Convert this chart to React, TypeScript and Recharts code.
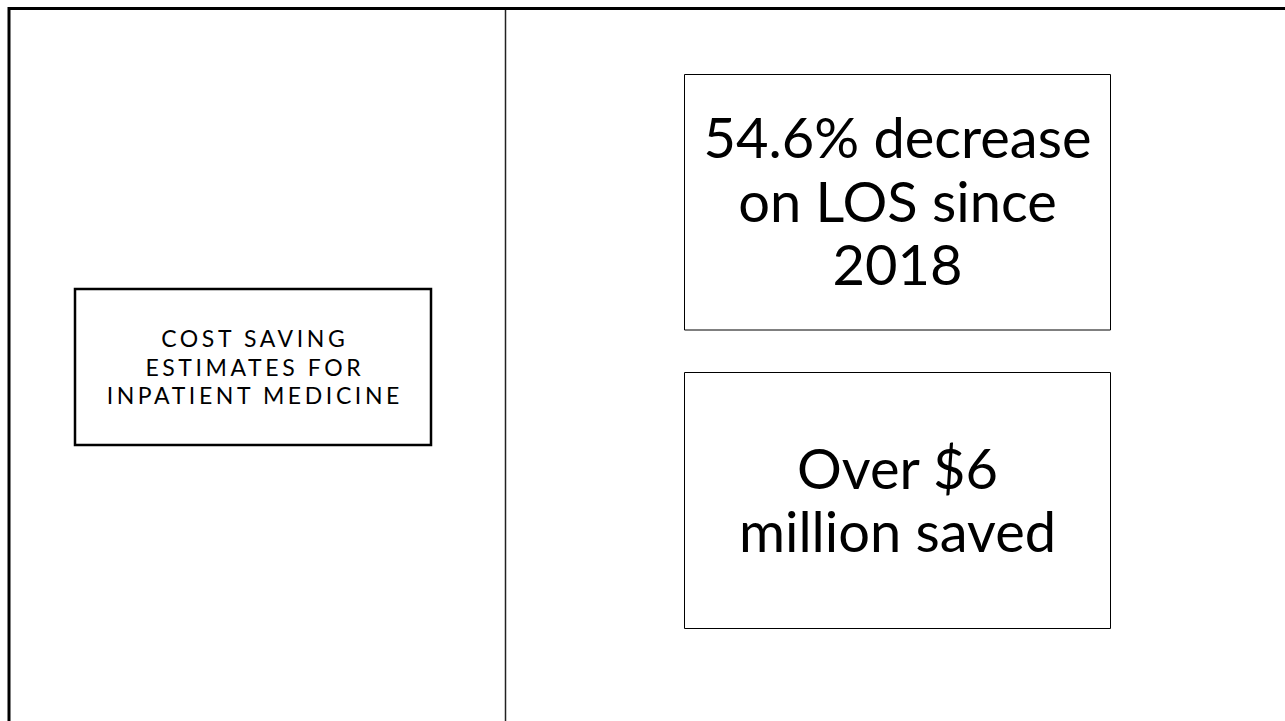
import React from "react";
import {
  ComposedChart,
  XAxis,
  YAxis,
  ReferenceArea,
  ReferenceLine,
} from "recharts";

const titleLines = ["COST SAVING", "ESTIMATES FOR", "INPATIENT MEDICINE"];
const losLines = ["54.6% decrease", "on LOS since", "2018"];
const savedLines = ["Over $6", "million saved"];

const W = 1285;
const H = 721;
const FONT = "Lato, 'Open Sans', sans-serif";

interface LinesProps {
  viewBox?: { x: number; y: number; width: number; height: number };
  lines: string[];
  fontSize: number;
  lineHeight: number;
  shift: number;
  spacing?: number;
}

// multi-line text centred in the box the label belongs to
function BoxLines({ viewBox, lines, fontSize, lineHeight, shift, spacing = 0 }: LinesProps) {
  if (!viewBox) return null;
  const cx = viewBox.x + viewBox.width / 2 + spacing / 2;
  const cy = viewBox.y + viewBox.height / 2;
  return (
    <g>
      {lines.map((line, i) => (
        <text
          key={line}
          x={cx}
          y={cy + (i - (lines.length - 1) / 2) * lineHeight + shift}
          textAnchor="middle"
          fontFamily={FONT}
          fontSize={fontSize}
          letterSpacing={spacing}
          fill="#000"
        >
          {line}
        </text>
      ))}
    </g>
  );
}

export default function App() {
  return (
    <div style={{ position: "absolute", left: 0, top: 0, width: W, height: H, background: "#fff" }}>
      <ComposedChart width={W} height={H} data={[]} margin={{ top: 0, right: 0, bottom: 0, left: 0 }}>
        <XAxis type="number" dataKey="x" domain={[0, W]} hide allowDataOverflow />
        <YAxis type="number" dataKey="y" domain={[0, H]} reversed hide allowDataOverflow />

        {/* slide frame */}
        <ReferenceLine segment={[{ x: 8, y: 8.5 }, { x: W, y: 8.5 }]} stroke="#000" strokeWidth={3} ifOverflow="visible" />
        <ReferenceLine segment={[{ x: 9, y: 7 }, { x: 9, y: H }]} stroke="#000" strokeWidth={3} ifOverflow="visible" />
        <ReferenceLine segment={[{ x: 505.5, y: 10 }, { x: 505.5, y: H }]} stroke="#222" strokeWidth={1.5} ifOverflow="visible" />

        <ReferenceArea
          x1={75}
          x2={431}
          y1={289}
          y2={445}
          fill="#fff"
          fillOpacity={1}
          stroke="#000"
          strokeWidth={2.5}
          ifOverflow="visible"
          label={<BoxLines lines={titleLines} fontSize={23} lineHeight={28.5} shift={8.5} spacing={3.6} />}
        />
        <ReferenceArea
          x1={684.5}
          x2={1110.5}
          y1={74.5}
          y2={330}
          fill="#fff"
          fillOpacity={1}
          stroke="#000"
          strokeWidth={1}
          ifOverflow="visible"
          label={<BoxLines lines={losLines} fontSize={56} lineHeight={63.5} shift={19.5} />}
        />
        <ReferenceArea
          x1={684.5}
          x2={1110.5}
          y1={372.5}
          y2={628.5}
          fill="#fff"
          fillOpacity={1}
          stroke="#000"
          strokeWidth={1}
          ifOverflow="visible"
          label={<BoxLines lines={savedLines} fontSize={56} lineHeight={63} shift={19.5} />}
        />
      </ComposedChart>
    </div>
  );
}
